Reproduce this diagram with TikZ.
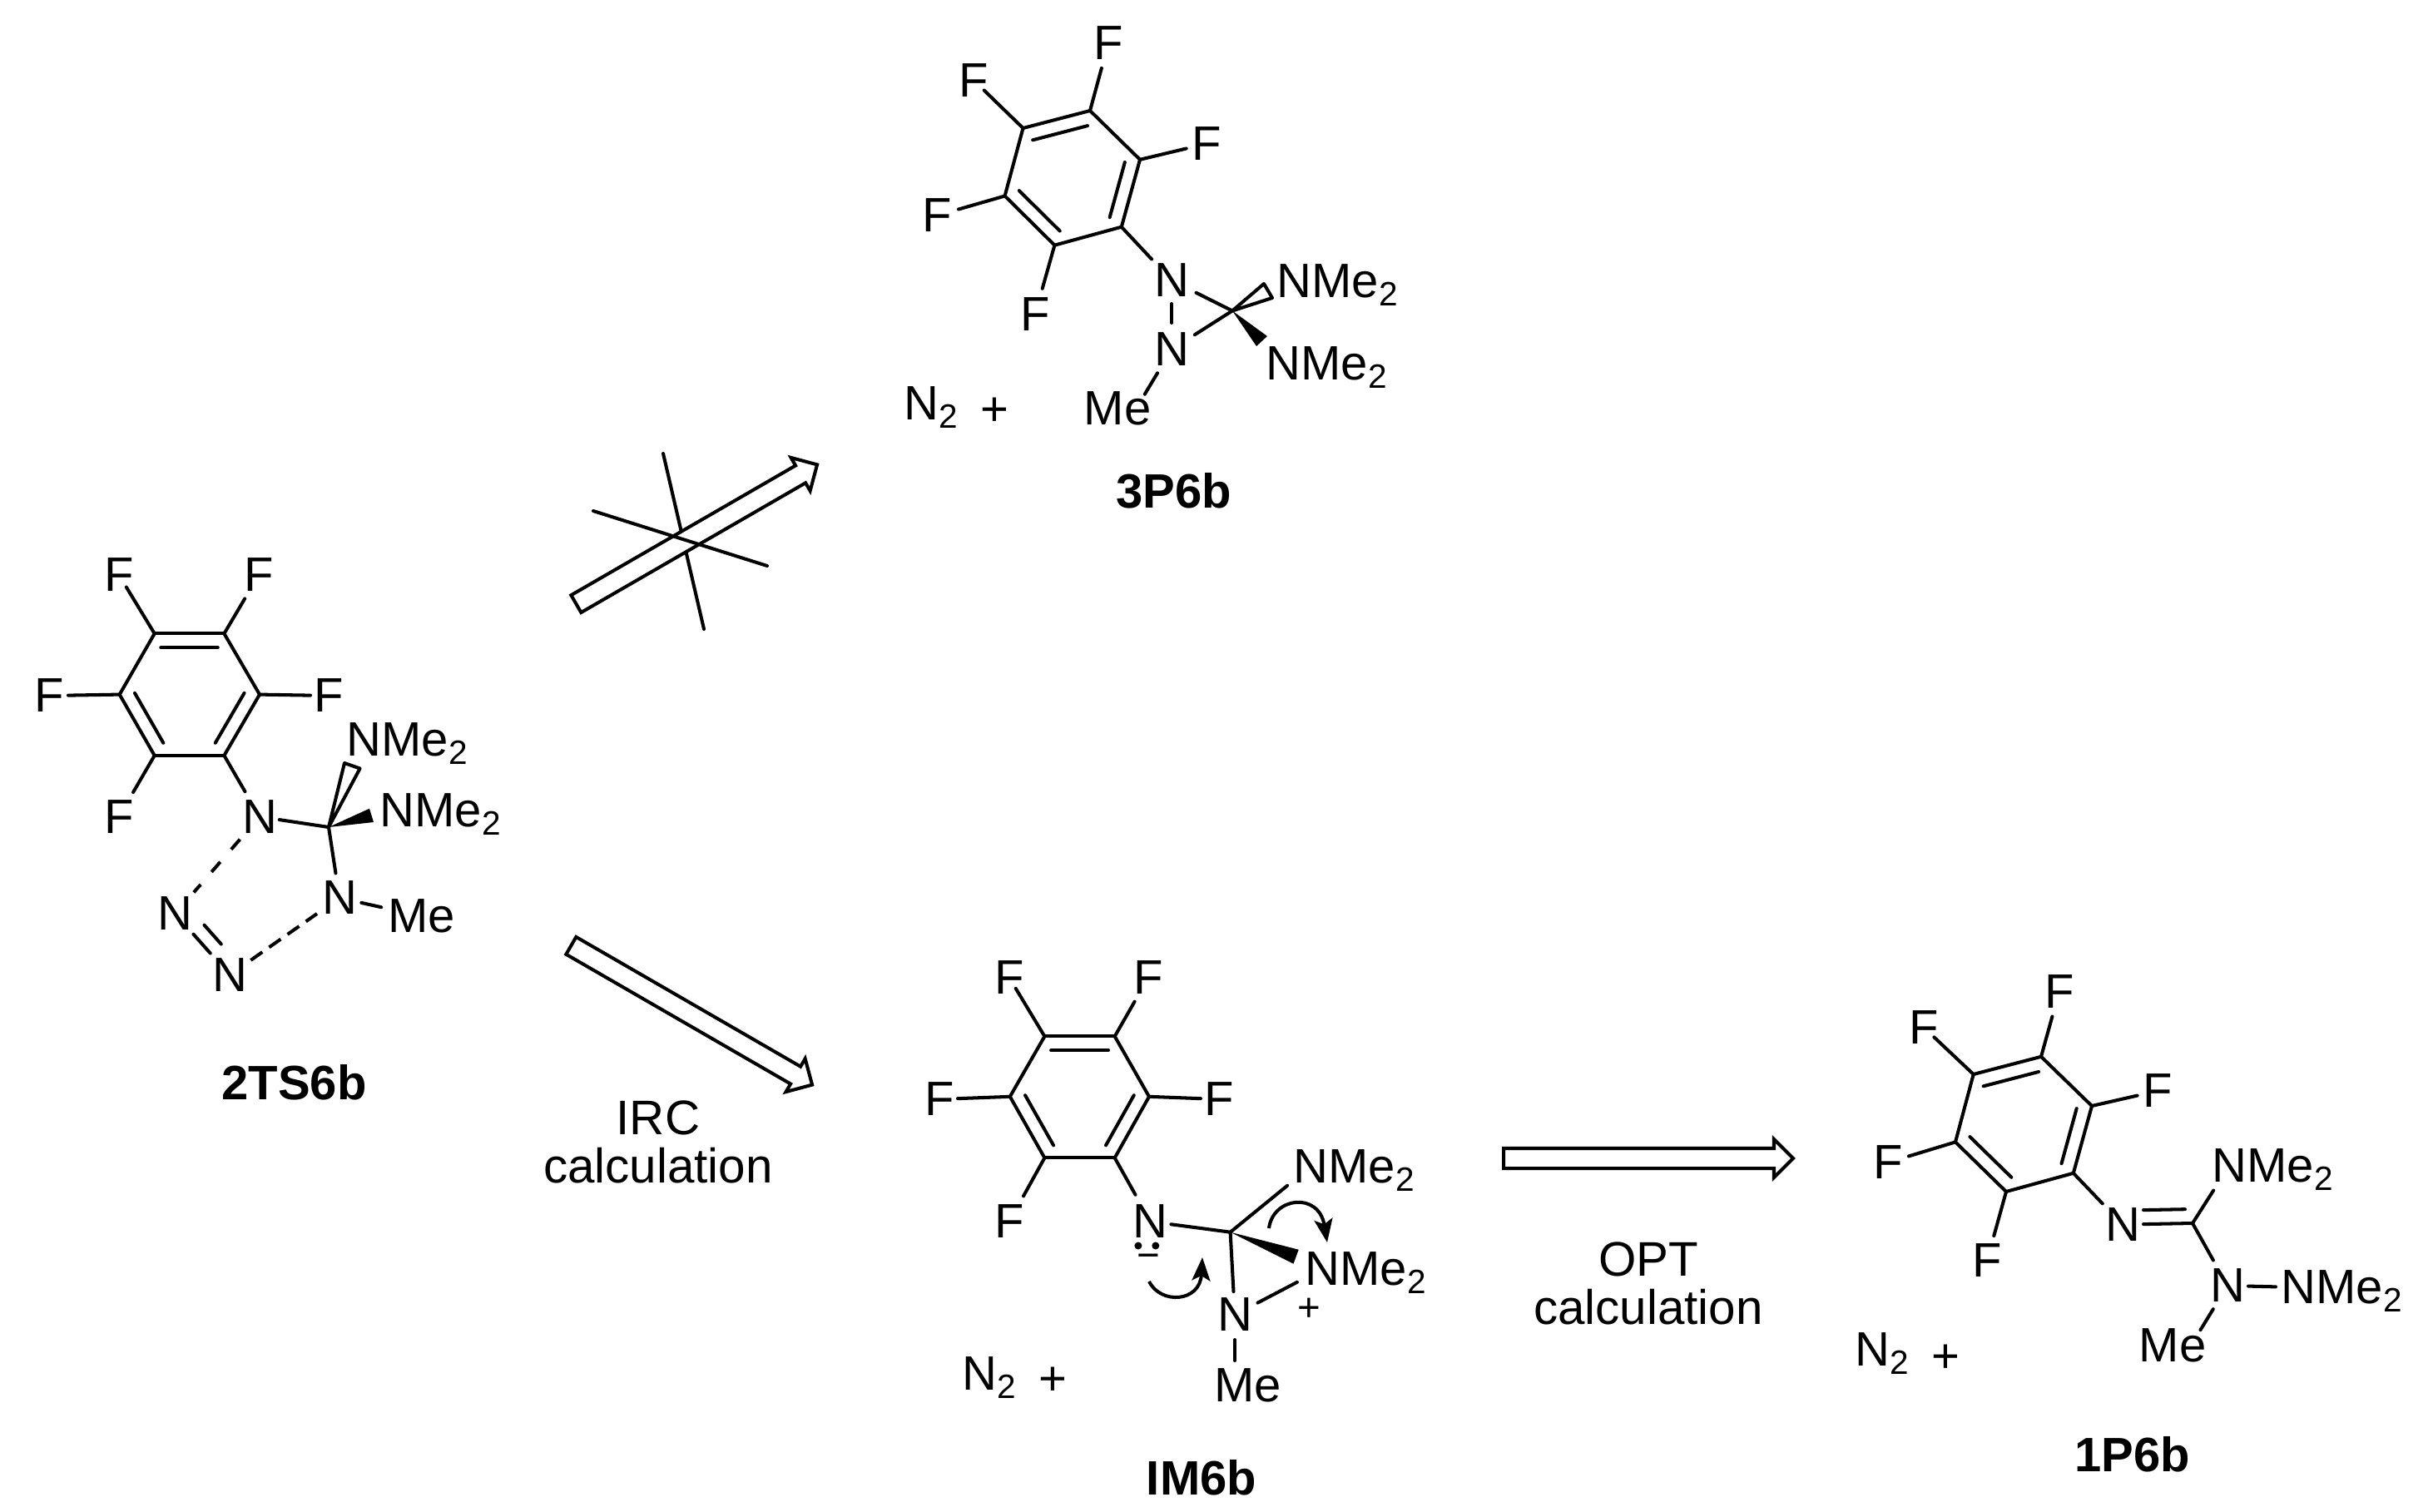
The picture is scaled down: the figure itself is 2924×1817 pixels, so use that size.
\documentclass[tikz,border=0pt]{standalone}
\usepackage{fontspec}
\setmainfont{Liberation Sans}
\usetikzlibrary{arrows.meta,calc,shapes.arrows}

\begin{document}
\begin{tikzpicture}
[x=0.1mm,y=-0.1mm,%
  lineDecorate/.style={-,line width=1.15pt,line cap=round,line join=round},%
  atomDecorate/.style={inner sep=0pt,font=\fontsize{16.5}{19}\selectfont},%
  tailDecorate/.style={atomDecorate,anchor=base west,xshift=5.95pt},%
  nameDecorate/.style={atomDecorate,font=\fontsize{16.5}{19}\selectfont\bfseries},%
  noteDecorate/.style={atomDecorate,align=center,font=\fontsize{16.6}{16.5}\selectfont},%
  chargeDecorate/.style={inner sep=0pt,font=\fontsize{13.5}{15}\selectfont},%
  blockDecorate/.style={shape=single arrow,draw,fill=white,line width=1.15pt,inner xsep=0pt,inner ysep=1mm,%
    single arrow head extend=1.1mm,single arrow tip angle=90},%
  curveDecorate/.style={line width=1.15pt,-{Stealth[length=2.8mm,width=2.2mm,inset=0.6mm]}}]
\useasboundingbox (0,0) rectangle (2924,1817);
%% ring vertices
\foreach \nodename/\x/\y in {pr1/1310/133, pr2/1229.5/154, pr3/1207.6/235.5, pr4/1267.4/294.7, pr5/1347.8/272.7, pr6/1370/191.8, prc/1288.7/214,
  tr1/185.7/761.4, tr2/269.4/761.4, tr3/312/834.6, tr4/269.4/907.9, tr5/185.7/907.9, tr6/143.7/834.6, trc/227.5/834.6,
  ir1/1255.4/1245.4, ir2/1339.7/1245.4, ir3/1381/1317.8, ir4/1339.7/1391.4, ir5/1255.4/1391.4, ir6/1213.8/1317.8, irc/1297.5/1318.4,
  or1/2453/1269.8, or2/2371.7/1291, or3/2350/1372.4, or4/2411/1432, or5/2491.8/1409.8, or6/2514/1329, orc/2432/1351,
  pc/1481/373.5, tc/395/994, ic/1478.6/1480.7, oc/2635/1470,
  pmeb/1366/490, imeb/1484/1665, omeb/2633/1617}
{
  \coordinate (\nodename) at (\x,\y);
}
%% fluorine atoms
\foreach \nodename/\x/\y in {pf1/1332/52, pf2/1170.5/96.7, pf3/1450/172.7, pf4/1126/259, pf5/1244/377.6,
  tf1/143/691, tf2/311/691, tf3/59/836, tf4/395/836, tf5/143/981.5,
  if1/1213/1175, if2/1380/1175, if3/1129/1321, if4/1465/1321, if5/1213/1468,
  of1/2474.7/1191.6, of2/2312/1234.7, of3/2593/1311, of4/2269/1397, of5/2388/1515}
{
  \node (\nodename) at (\x,\y) [atomDecorate] {F};
}
%% nitrogen atoms
\foreach \nodename/\x/\y in {pn1/1408/337, pn2/1408/420, tn1/312/981.5, tn2/408/1079, tn3/210.6/1098, tn4/276/1171.7,
  in1/1382.6/1468, in2/1484/1580, on1/2551/1471.6, on2/2677/1545}
{
  \node (\nodename) at (\x,\y) [atomDecorate] {N};
}
%% NMe2 groups
\foreach \nodename/\x/\y in {pg1/1555/338, pg2/1542/437, tg1/437/889, tg2/477/974,
  ig1/1575/1402, ig2/1589/1525, og1/2679/1401, og2/2762/1547}
{
  \node (\nodename) at (\x,\y) [atomDecorate] {N};
  \node (\nodename t) at (\nodename.base) [tailDecorate] {Me\textsubscript{2}};
}
%% methyl labels
\foreach \nodename/\x/\y in {pme/1343/490.6, tme/506.5/1101, ime/1499.6/1665, ome/2611/1617}
{
  \node (\nodename) at (\x,\y) [atomDecorate] {Me};
}
%% N2 + fragments
\foreach \nodename/\x/\y/\u/\v in {pd/1107/485/1195/494.7, id/1177/1651/1265/1660, od/2250/1622/2338.5/1632.4}
{
  \node (\nodename) at (\x,\y) [atomDecorate] {N};
  \node (\nodename t) at (\nodename.base) [tailDecorate] {\textsubscript{2}};
  \node (\nodename p) at (\u,\v) [atomDecorate] {+};
}
%% compound names
\foreach \nodename/\x/\y/\txt in {pname/1411/590/3P6b, tname/353.5/1301/2TS6b, iname/1444/1776/IM6b, oname/2562.4/1748/1P6b}
{
  \node (\nodename) at (\x,\y) [nameDecorate] {\txt};
}
%% benzene rings
\foreach \ringname in {pr,tr,ir,or}
{
  \foreach \startnode/\endnode in {1/2, 2/3, 3/4, 4/5, 5/6, 6/1}
  {
    \draw[lineDecorate] (\ringname\startnode) -- (\ringname\endnode);
  }
  \foreach \startnode/\endnode in {1/2, 3/4, 5/6}
  {
    \draw[lineDecorate,shorten <=-0.2mm,shorten >=-0.2mm] ($(\ringname\startnode)!0.23!(\ringname c)$) -- ($(\ringname\endnode)!0.23!(\ringname c)$);
  }
}
%% bonds, with the gap kept free at each end in mm
\foreach \startnode/\endnode/\sgap/\egap in {pr1/pf1/0/3.1, pr2/pf2/0/1.7, pr6/pf3/0/2.5, pr3/pf4/0/2.7, pr4/pf5/0/3.2,
  pr5/pn1/0/3.5, pn1/pn2/2.8/3.2, pn1/pc/3.3/0, pn2/pc/3.3/0, pn2/pmeb/3.3/1.9,
  tr1/tf1/0/1.7, tr2/tf2/0/3.3, tr6/tf3/0/2.3, tr3/tf4/0/2.2, tr5/tf5/0/3.4,
  tr4/tn1/0/3.5, tn1/tc/2.4/0, tc/tn2/0/3.0, tn2/tme/2.7/4.95, tn3/tn4/3.3/3.5,
  ir1/if1/0/1.5, ir2/if2/0/3.3, ir6/if3/0/2.2, ir3/if4/0/2.2, ir5/if5/0/3.5,
  ir4/in1/0/3.7, in1/ic/2.5/0, ic/ig1/0/3.6, ic/in2/0/2.8, in2/ig2/3.1/3.4, in2/imeb/3.0/3.0,
  or1/of1/0/3.1, or2/of2/0/1.7, or6/of3/0/2.5, or3/of4/0/2.6, or4/of5/0/3.1,
  or5/on1/0/3.5, on1/oc/2.5/0, oc/og1/0/3.5, oc/on2/0/3.5, on2/og2/2.5/2.7, on2/omeb/3.3/2.2}
{
  \draw[lineDecorate,shorten <=\sgap mm,shorten >=\egap mm] (\startnode.center) -- (\endnode.center);
}
%% second lines of the N=N and C=N bonds
\draw[lineDecorate,shorten <=3.3mm,shorten >=3.5mm] ($(tn3.center)+(13,-11)$) -- ($(tn4.center)+(13,-11)$);
\draw[lineDecorate,shorten <=2.5mm,shorten >=0.9mm] ($(on1.center)+(0,-17)$) -- ($(oc)+(0,-17)$);
%% forming bonds
\draw[lineDecorate,line cap=butt,dash pattern=on 1.6mm off 2mm,shorten <=3.6mm,shorten >=3.4mm] (tn1.center) -- (tn3.center);
\draw[lineDecorate,line cap=butt,dash pattern=on 1.7mm off 1mm,shorten <=3.1mm,shorten >=3.3mm] (tn4.center) -- (tn2.center);
%% wedges
\foreach \nodename/\x/\y in {pw1/1519/341, pw2/1529/358, pb1/1523/404, pb2/1510/416,
  tw1/414/917, tw2/432.6/923.5, tb1/444/971.7, tb2/449/988, ib1/1560.7/1501.7, ib2/1554.5/1518.7}
{
  \coordinate (\nodename) at (\x,\y);
}
\foreach \tipnode/\startnode/\endnode in {pc/pw1/pw2, tc/tw1/tw2}
{
  \draw[lineDecorate] (\tipnode) -- (\startnode) -- (\endnode) -- cycle;
}
\foreach \tipnode/\startnode/\endnode in {pc/pb1/pb2, tc/tb1/tb2, ic/ib1/ib2}
{
  \fill (\tipnode) -- (\startnode) -- (\endnode) -- cycle;
}
%% lone pair and charges on IM6b
\foreach \nodename/\x/\y in {idot1/1367.9/1497, idot2/1388.8/1497}
{
  \node (\nodename) at (\x,\y) [circle,fill,inner sep=0pt,minimum size=0.9mm] {};
}
\node (iminus) at (1380,1516) [chargeDecorate] {−};
\node (iplus) at (1573,1574) [chargeDecorate] {+};
%% curved arrows
\foreach \nodename/\x/\y in {ca1/1525/1476, cb1/1595/1493, ca2/1381/1540, cb2/1445/1511}
{
  \coordinate (\nodename) at (\x,\y);
}
\draw[curveDecorate] (ca1) .. controls (1530,1438) and (1585,1432) .. (cb1);
\draw[curveDecorate] (ca2) .. controls (1395,1568) and (1442,1565) .. (cb2);
%% reaction arrows
\coordinate (xa1) at (797,545);
\coordinate (xa2) at (846,756);
\coordinate (xb1) at (713,614);
\coordinate (xb2) at (922,680);
\draw[lineDecorate] (xa1) -- (xa2);
\node (arrowup) at (832,645) [blockDecorate,minimum height=33.45mm,rotate=30] {};
\draw[lineDecorate] (xb1) -- (xb2);
\node (arrowdown) at (826,1217) [blockDecorate,minimum height=33.45mm,rotate=-30] {};
\node (arrowopt) at (1975,1392) [blockDecorate,minimum height=34.8mm] {};
\node (noteirc) at (791,1372) [noteDecorate] {IRC\\calculation};
\node (noteopt) at (1981,1542) [noteDecorate] {OPT\\calculation};
\end{tikzpicture}
\end{document}
